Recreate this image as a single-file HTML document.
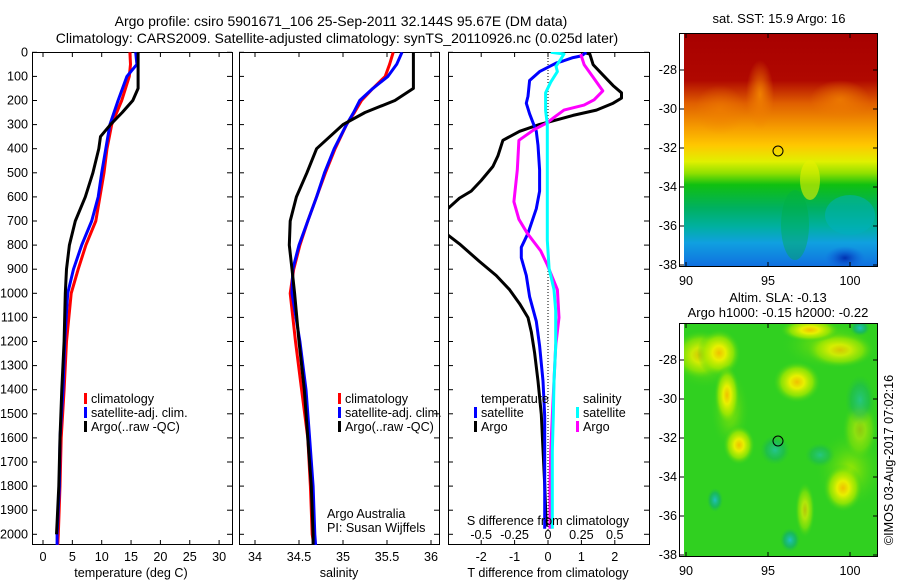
<!DOCTYPE html>
<html><head><meta charset="utf-8">
<style>
html,body{margin:0;padding:0;background:#fff;}
svg{display:block;font-family:"Liberation Sans",sans-serif;font-size:12.6px;}
</style></head>
<body>
<svg id="chart" width="900" height="580" viewBox="0 0 900 580">
<defs>
<linearGradient id="sstGrad" x1="0" y1="0" x2="0" y2="1">
<stop offset="0" stop-color="#a80000"/><stop offset="0.2" stop-color="#b00800"/>
<stop offset="0.3" stop-color="#e06000"/><stop offset="0.4" stop-color="#f59a00"/>
<stop offset="0.48" stop-color="#ffc800"/><stop offset="0.55" stop-color="#e0f000"/>
<stop offset="0.6" stop-color="#90e000"/><stop offset="0.65" stop-color="#10c010"/>
<stop offset="0.75" stop-color="#00b060"/><stop offset="0.83" stop-color="#00b0a0"/>
<stop offset="0.9" stop-color="#10a0e0"/><stop offset="1" stop-color="#1070e0"/>
</linearGradient>
<radialGradient id="yb"><stop offset="0" stop-color="#f0c000"/><stop offset="0.3" stop-color="#e8f000"/><stop offset="0.65" stop-color="#a0e800" stop-opacity="0.8"/><stop offset="1" stop-color="#30d020" stop-opacity="0"/></radialGradient>
<radialGradient id="lg"><stop offset="0" stop-color="#a0e800"/><stop offset="1" stop-color="#30d020" stop-opacity="0"/></radialGradient>
<radialGradient id="tb"><stop offset="0" stop-color="#20c0c0"/><stop offset="0.6" stop-color="#10b070" stop-opacity="0.7"/><stop offset="1" stop-color="#20c040" stop-opacity="0"/></radialGradient>
<radialGradient id="db"><stop offset="0" stop-color="#0030b0"/><stop offset="1" stop-color="#1060e0" stop-opacity="0"/></radialGradient>
<radialGradient id="rb"><stop offset="0" stop-color="#f08000"/><stop offset="1" stop-color="#f08000" stop-opacity="0"/></radialGradient>
<clipPath id="c1"><rect x="32" y="52" width="200" height="493"/></clipPath>
<clipPath id="c2"><rect x="239" y="52" width="200" height="493"/></clipPath>
<clipPath id="c3"><rect x="448" y="52" width="201" height="493"/></clipPath>
<clipPath id="m1"><rect x="684" y="34" width="193" height="232"/></clipPath>
<clipPath id="m2"><rect x="684" y="324" width="193" height="232"/></clipPath>
</defs>

<text x="341" y="26" text-anchor="middle" style="font-size:14px">Argo profile: csiro 5901671_106 25-Sep-2011 32.144S 95.67E (DM data)</text>
<text x="337" y="43" text-anchor="middle" style="font-size:14px">Climatology: CARS2009. Satellite-adjusted climatology: synTS_20110926.nc (0.025d later)</text>

<g id="p1"></g>
<g id="p2"></g>
<g id="p3"></g>

<!-- SST map -->
<g>
<text x="779" y="23" text-anchor="middle" style="font-size:13px">sat. SST: 15.9 Argo: 16</text>
<g clip-path="url(#m1)">
<rect x="684" y="34" width="193" height="232" fill="url(#sstGrad)"/>
<ellipse cx="760" cy="95" rx="14" ry="35" fill="url(#rb)"/>
<ellipse cx="720" cy="110" rx="25" ry="25" fill="url(#rb)" opacity="0.6"/>
<ellipse cx="840" cy="100" rx="30" ry="20" fill="url(#rb)" opacity="0.8"/>
<ellipse cx="850" cy="215" rx="25" ry="20" fill="#00b0c0" opacity="0.5"/>
<ellipse cx="845" cy="258" rx="20" ry="12" fill="url(#db)"/>
<ellipse cx="810" cy="180" rx="10" ry="20" fill="#e8f000" opacity="0.6"/>
<ellipse cx="795" cy="225" rx="14" ry="35" fill="#00b040" opacity="0.4"/>
</g>
<rect x="679.5" y="33.5" width="198" height="233" fill="none" stroke="#000"/>
<circle cx="778" cy="151" r="5" fill="none" stroke="#000"/>
</g>

<!-- SLA map -->
<g>
<text x="778" y="302" text-anchor="middle" style="font-size:13px">Altim. SLA: -0.13</text>
<text x="778" y="317" text-anchor="middle" style="font-size:13px">Argo h1000: -0.15 h2000: -0.22</text>
<g clip-path="url(#m2)">
<rect x="684" y="324" width="193" height="232" fill="#30d020"/>
<ellipse cx="705" cy="360" rx="35" ry="30" fill="url(#lg)"/>
<ellipse cx="830" cy="345" rx="50" ry="25" fill="url(#lg)"/>
<ellipse cx="850" cy="470" rx="35" ry="40" fill="url(#lg)"/>
<ellipse cx="730" cy="410" rx="20" ry="40" fill="url(#lg)"/>
<ellipse cx="700" cy="355" rx="28" ry="25" fill="url(#yb)" opacity="0.8"/>
<ellipse cx="719" cy="353" rx="22" ry="24" fill="url(#yb)"/>
<ellipse cx="727" cy="395" rx="13" ry="30" fill="url(#yb)"/>
<ellipse cx="739" cy="445" rx="16" ry="20" fill="url(#yb)"/>
<ellipse cx="797" cy="382" rx="24" ry="21" fill="url(#yb)"/>
<ellipse cx="840" cy="350" rx="35" ry="18" fill="url(#yb)" opacity="0.8"/>
<ellipse cx="810" cy="330" rx="30" ry="12" fill="url(#yb)"/>
<ellipse cx="843" cy="488" rx="20" ry="24" fill="url(#yb)"/>
<ellipse cx="860" cy="430" rx="18" ry="30" fill="url(#yb)" opacity="0.5"/>
<ellipse cx="805" cy="510" rx="10" ry="28" fill="url(#yb)" opacity="0.7"/>
<ellipse cx="790" cy="540" rx="10" ry="12" fill="url(#tb)"/>
<ellipse cx="715" cy="500" rx="8" ry="12" fill="url(#tb)"/>
<ellipse cx="775" cy="450" rx="15" ry="15" fill="url(#tb)" opacity="0.7"/>
<ellipse cx="860" cy="400" rx="15" ry="25" fill="url(#tb)" opacity="0.6"/>
<ellipse cx="820" cy="455" rx="15" ry="12" fill="url(#tb)" opacity="0.6"/>
<ellipse cx="860" cy="328" rx="10" ry="8" fill="url(#tb)"/>
</g>
<rect x="679.5" y="323.5" width="198" height="233" fill="none" stroke="#000"/>
<circle cx="778" cy="441" r="5" fill="none" stroke="#000"/>
</g>
<g id="maps"></g>
<text transform="translate(893,460) rotate(-90)" text-anchor="middle">©IMOS 03-Aug-2017 07:02:16</text>
</svg>

<script>
// ---- data ----
const depthsT = [0,50,100,200,300,400,500,600,700,800,900,1000,1200,1400,1600,1800,2000,2050];
const tempClim = [14.8,14.9,14.7,13.4,11.7,10.9,10.4,9.7,9.0,7.3,6.0,4.8,4.0,3.6,3.1,2.9,2.6,2.5];
const tempSat  = [15.8,16.0,14.3,12.8,11.4,10.7,10.0,9.4,8.3,6.6,5.2,4.2,3.7,3.4,2.9,2.8,2.4,2.4];
const depthsArgo = [0,150,200,250,300,350,400,500,600,700,800,900,1000,1200,1400,1600,1800,1950,2000];
const tempArgo = [16.2,16.2,15.3,13.5,11.5,9.8,9.5,8.5,7.2,5.5,4.5,4.0,3.8,3.6,3.2,2.9,2.7,2.4,2.3];
const depthsS = [0,50,100,150,200,250,300,400,500,600,700,800,900,1000,1200,1400,1600,1800,2000,2050];
const salClim = [35.57,35.53,35.48,35.34,35.21,35.13,35.04,34.91,34.80,34.70,34.60,34.51,34.44,34.40,34.46,34.53,34.60,34.63,34.65,34.67];
const salSat  = [35.67,35.61,35.51,35.34,35.19,35.12,35.04,34.90,34.79,34.70,34.60,34.50,34.43,34.42,34.51,34.58,34.62,34.66,34.68,34.69];
const salArgo = [35.80,35.80,35.80,35.80,35.59,35.25,35.00,34.70,34.59,34.47,34.40,34.39,34.42,34.45,34.50,34.56,34.60,34.64,34.66,34.66];
const dTArgoDepth = [0,7,51,95,138,168,190,211,240,262,277,299,328,365,430,474,532,576,605,649,700,758,795,868,926,985,1043,1101,1160,1247,1364,1502,1648,1793,1968];
const dTArgo = [1.05,1.25,1.35,1.65,1.95,2.2,2.2,1.95,1.45,0.75,0.35,-0.25,-0.85,-1.35,-1.5,-1.65,-2.0,-2.3,-2.65,-3.0,-3.4,-3.0,-2.65,-2.05,-1.55,-1.15,-0.85,-0.6,-0.5,-0.4,-0.3,-0.2,-0.15,-0.1,-0.05];
const dTSatDepth = [0,15,22,36,44,80,117,182,211,255,328,386,488,576,649,751,809,853,926,1014,1116,1218,1364,1510,1656,1802,1977];
const dTSat = [1.15,1.0,0.75,0.45,0.25,-0.25,-0.55,-0.6,-0.65,-0.55,-0.35,-0.3,-0.25,-0.25,-0.35,-0.6,-0.8,-0.8,-0.65,-0.55,-0.35,-0.25,-0.15,-0.1,-0.1,-0.1,-0.1];
const dSSatDepth = [0,7,29,58,80,124,168,241,299,386,488,634,780,897,985,1072,1218,1364,1510,1656,1802,1977];
const dSSat = [0.02,0.12,0.095,0.06,0.07,0.02,-0.018,-0.018,-0.005,-0.005,-0.005,-0.005,-0.005,0.008,0.045,0.058,0.058,0.045,0.04,0.032,0.032,0.032];
const dSArgoDepth = [7,51,109,160,197,219,240,270,292,321,365,488,620,693,751,824,882,985,1101,1218,1364,1510,1656,1802,1977];
const dSArgo = [0.245,0.27,0.345,0.41,0.345,0.27,0.12,0.045,-0.005,-0.105,-0.218,-0.23,-0.255,-0.218,-0.155,-0.055,-0.005,0.07,0.082,0.058,0.045,0.032,0.02,0.015,0.015];
const depthTicks = [0,100,200,300,400,500,600,700,800,900,1000,1100,1200,1300,1400,1500,1600,1700,1800,1900,2000];
const tempTicks = [0,5,10,15,20,25,30];
const salTicks = [34,34.5,35,35.5,36];
const salTickLabels = ["34","34.5","35","35.5","36"];
const dTTicks = [-2,-1,0,1,2];
const dSTicks = [-0.5,-0.25,0,0.25,0.5];
const dSTickLabels = ["-0.5","-0.25","0","0.25","0.5"];
const latTicks = [-28,-30,-32,-34,-36,-38];
const lonTicks = [90,95,100];

// ---- scales ----
const yD = d => 52.3 + d*0.241;
const xT = t => 43 + t*5.87;
const xS = s => 255 + (s-34)*88;
const xDT = t => 548 + t*33.4;
const xDS = s => 548 + s*133.6;
const lonX = l => 686 + (l-90)*16.4;
const latY = (la, top) => top + 36 + (-28-la)*19.5;

const NS = "http://www.w3.org/2000/svg";
function mk(tag, attrs, parent){ const e=document.createElementNS(NS,tag); for(const k in attrs) e.setAttribute(k,attrs[k]); parent.appendChild(e); return e; }

function line(parent, xs, ds, xf, color, name, clip){
  const pts = xs.map((v,i)=>xf(v).toFixed(1)+","+yD(ds[i]).toFixed(1)).join(" ");
  const p = mk("polyline",{points:pts,fill:"none",stroke:color,"stroke-width":"3","stroke-linejoin":"round","clip-path":"url(#"+clip+")"},parent);
  
  
}
function frame(parent, x0, x1, name){
  const r = mk("rect",{x:x0+0.5,y:52.5,width:x1-x0,height:492,fill:"none",stroke:"#000"},parent);
  
  
  depthTicks.forEach(d=>{ const y=yD(d);
    mk("line",{x1:x0,y1:y,x2:x0+5,y2:y,stroke:"#000"},parent);
    mk("line",{x1:x1,y1:y,x2:x1-5,y2:y,stroke:"#000"},parent);
  });
}
function xticks(parent, ticks, labels, xf, y, top){
  ticks.forEach((t,i)=>{ const x=xf(t);
    mk("line",{x1:x,y1:545,x2:x,y2:540,stroke:"#000"},parent);
    if(top) mk("line",{x1:x,y1:52,x2:x,y2:57,stroke:"#000"},parent);
    const tx = mk("text",{x:x,y:y,"text-anchor":"middle"},parent); tx.textContent=labels[i];
    
    
  });
}
function txt(parent, x, y, s, name, anchor){
  const t = mk("text",{x:x,y:y,"text-anchor":anchor||"start"},parent); t.textContent=s;
  
  
}
function legend(parent, x, y, color, s, name){
  const r = mk("rect",{x:x,y:y-10,width:3,height:11,fill:color},parent);
  
  
  txt(parent, x+7, y, s, name);
}

// panel 1
const p1 = document.getElementById("p1");
frame(p1, 32, 232, "temperature-axes");
depthTicks.forEach(d=>{ txt(p1, 28, yD(d)+4, String(d), "depth-tick-label", "end"); });
xticks(p1, tempTicks, tempTicks.map(String), xT, 561, true);
txt(p1, 131, 577, "temperature (deg C)", "temperature-axis-title", "middle");
line(p1, tempClim, depthsT, xT, "#ff0000", "temp-climatology-line", "c1");
line(p1, tempSat, depthsT, xT, "#0000ff", "temp-satellite-line", "c1");
line(p1, tempArgo, depthsArgo, xT, "#000000", "temp-argo-line", "c1");
legend(p1, 84, 403, "#ff0000", "climatology", "legend-climatology");
legend(p1, 84, 417, "#0000ff", "satellite-adj. clim.", "legend-satellite-adj");
legend(p1, 84, 431, "#000000", "Argo(..raw -QC)", "legend-argo");

// panel 2
const p2 = document.getElementById("p2");
frame(p2, 239, 439, "salinity-axes");
xticks(p2, salTicks, salTickLabels, xS, 561, true);
txt(p2, 339, 577, "salinity", "salinity-axis-title", "middle");
line(p2, salClim, depthsS, xS, "#ff0000", "sal-climatology-line", "c2");
line(p2, salSat, depthsS, xS, "#0000ff", "sal-satellite-line", "c2");
line(p2, salArgo, depthsS, xS, "#000000", "sal-argo-line", "c2");
legend(p2, 338, 403, "#ff0000", "climatology", "legend-climatology");
legend(p2, 338, 417, "#0000ff", "satellite-adj. clim.", "legend-satellite-adj");
legend(p2, 338, 431, "#000000", "Argo(..raw -QC)", "legend-argo");
txt(p2, 327, 518, "Argo Australia", "argo-australia-label");
txt(p2, 327, 532, "PI: Susan Wijffels", "pi-label");

// panel 3
const p3 = document.getElementById("p3");
frame(p3, 448, 649, "difference-axes");
const zl = mk("line",{x1:548,y1:52,x2:548,y2:530,stroke:"#000","stroke-dasharray":"1,2"},p3);


xticks(p3, dTTicks, dTTicks.map(String), xDT, 561, true);
txt(p3, 548, 577, "T difference from climatology", "t-diff-axis-title", "middle");
line(p3, dTArgo, dTArgoDepth, xDT, "#000000", "tdiff-argo-line", "c3");
line(p3, dTSat, dTSatDepth, xDT, "#0000ff", "tdiff-satellite-line", "c3");
line(p3, dSArgo, dSArgoDepth, xDS, "#ff00ff", "sdiff-argo-line", "c3");
line(p3, dSSat, dSSatDepth, xDS, "#00ffff", "sdiff-satellite-line", "c3");
dSTicks.forEach((s,i)=>{ txt(p3, xDS(s), 539, dSTickLabels[i], "s-diff-tick-label", "middle"); });
txt(p3, 548, 525, "S difference from climatology", "s-diff-axis-title", "middle");
txt(p3, 481, 403, "temperature", "legend-temperature-header");
txt(p3, 583, 403, "salinity", "legend-salinity-header");
legend(p3, 474, 417, "#0000ff", "satellite", "legend-t-satellite");
legend(p3, 474, 431, "#000000", "Argo", "legend-t-argo");
legend(p3, 576, 417, "#00ffff", "satellite", "legend-s-satellite");
legend(p3, 576, 431, "#ff00ff", "Argo", "legend-s-argo");

// map axes
const mg = document.getElementById("maps");
[34, 324].forEach(top=>{
  latTicks.forEach(la=>{ const y=latY(la, top);
    mk("line",{x1:680,y1:y,x2:684,y2:y,stroke:"#000"},mg);
    mk("line",{x1:877,y1:y,x2:873,y2:y,stroke:"#000"},mg);
    txt(mg, 677, y+4, String(la), "lat-tick-label", "end");
  });
  lonTicks.forEach(lo=>{ const x=lonX(lo);
    mk("line",{x1:x,y1:top+232,x2:x,y2:top+228,stroke:"#000"},mg);
    mk("line",{x1:x,y1:top,x2:x,y2:top+4,stroke:"#000"},mg);
    txt(mg, x, top+251, String(lo), "lon-tick-label", "middle");
  });
});
</script>
</body></html>
